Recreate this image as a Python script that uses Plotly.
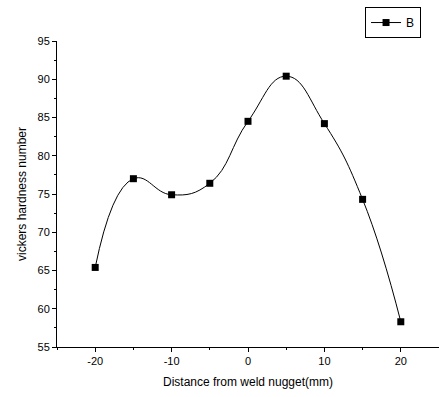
import plotly.graph_objects as go

distance = [-20, -15, -10, -5, 0, 5, 10, 15, 20]
hardness = [65.4, 77.0, 74.9, 76.4, 84.5, 90.4, 84.2, 74.3, 58.3]
series_name = "B"
x_tickvals = [-20, -10, 0, 10, 20]
x_ticktext = ["-20", "-10", "0", "10", "20"]

fig = go.Figure()
fig.add_trace(go.Scatter(
    x=distance, y=hardness, name=series_name, mode="lines+markers",
    line=dict(color="black", width=1, shape="spline", smoothing=1.3),
    marker=dict(symbol="square", size=7, color="black"),
))

font_family = "Liberation Sans, Arial, sans-serif"
fig.update_layout(
    width=439, height=397,
    margin=dict(l=57, r=0, t=41, b=50),
    paper_bgcolor="white", plot_bgcolor="white",
    font=dict(family=font_family, size=11, color="black"),
    showlegend=True,
    legend=dict(x=0.953, y=1.111, xanchor="right", yanchor="top",
                bordercolor="black", borderwidth=1, bgcolor="white",
                font=dict(size=12), itemwidth=30,
                tracegroupgap=0),
)
fig.update_xaxes(
    range=[-25, 25], tickvals=x_tickvals, ticktext=x_ticktext,
    showline=True, linecolor="black", linewidth=1,
    ticks="outside", ticklen=4, tickcolor="black",
    minor=dict(dtick=5, tick0=0, ticks="outside", ticklen=2, tickcolor="black"),
    showgrid=False, zeroline=False,
    title=dict(text="Distance from weld nugget(mm)", font=dict(size=12), standoff=11),
)
fig.update_yaxes(
    range=[55, 95], dtick=5,
    showline=True, linecolor="black", linewidth=1,
    ticks="outside", ticklen=4, tickcolor="black",
    minor=dict(dtick=2.5, tick0=0, ticks="outside", ticklen=2, tickcolor="black"),
    showgrid=False, zeroline=False,
    title=dict(text="vickers hardness number", font=dict(size=12), standoff=8),
)
fig.write_html("out.html")
